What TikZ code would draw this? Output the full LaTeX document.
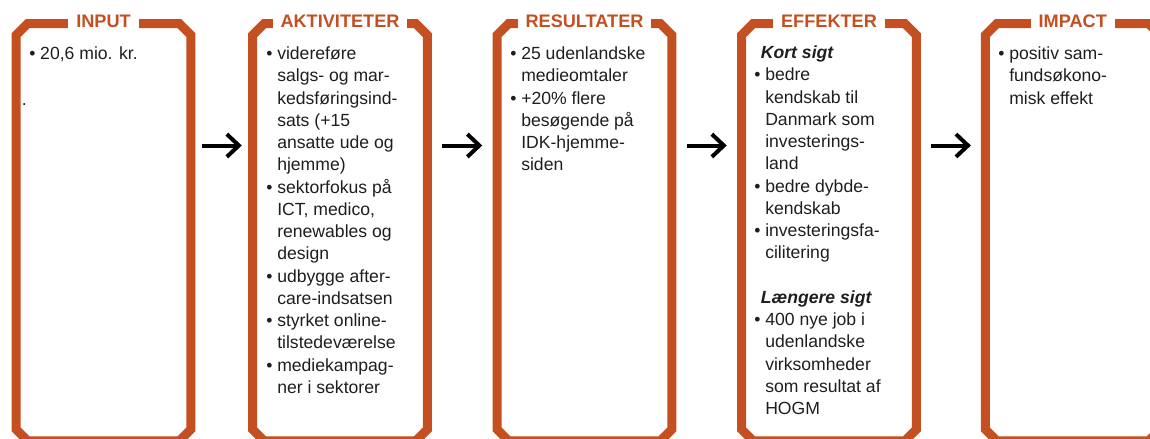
\documentclass[tikz,border=0pt]{standalone}
\usepackage{fontspec}
\setmainfont{Liberation Sans}
\usetikzlibrary{calc,arrows.meta}

\definecolor{frameorange}{RGB}{196,79,32}
\definecolor{bodyink}{RGB}{30,30,30}

% bullet list helpers for the box texts (\\ inside an item keeps the hanging indent)
\newlength\bulletindent
\setlength\bulletindent{8.25pt}
\newcommand\itm{\par\hangindent=\bulletindent\hangafter=1\noindent\makebox[\bulletindent][l]{•}}
\newcommand\subhead[1]{\par\noindent\hspace*{5pt}\textbf{\textit{#1}}}
\newcommand\blankline{\par\noindent\mbox{}}
\newcommand\boxtext[1]{\parbox[t]{118pt}{\fontsize{13.2}{16.7}\selectfont #1}}

% chamfer size of the frames
\def\cc{11.5}
% octagonal frame drawn around a named box area
\newcommand\chamferoutline[1]{%
  \draw[frame]
    ($(#1.north west)+(\cc,0)$) -- ($(#1.north east)+(-\cc,0)$) --
    ($(#1.north east)+(0,\cc)$) -- ($(#1.south east)+(0,-\cc)$) --
    ($(#1.south east)+(-\cc,0)$) -- ($(#1.south west)+(\cc,0)$) --
    ($(#1.south west)+(0,-\cc)$) -- ($(#1.north west)+(0,\cc)$) -- cycle;}

\tikzset{
  boxarea/.style={rectangle, inner sep=0pt, outer sep=0pt,
    minimum width=130.9pt, minimum height=313.1pt},
  frame/.style={draw=frameorange, line width=6.75pt, line join=miter},
  boxtitle/.style={anchor=base, fill=white, text=frameorange,
    font=\fontsize{13.6}{16}\selectfont\bfseries, inner xsep=6pt, inner ysep=2.5pt},
  body/.style={anchor=base west, inner sep=0pt, text=bodyink},
  flow/.style={draw=black, line width=3pt,
    -{Straight Barb[length=9pt,width=17pt]}},
}

\begin{document}
\begin{tikzpicture}[x=0.75pt, y=-0.75pt]
\useasboundingbox (0,0) rectangle (1150,439);
\clip (0,0) rectangle (1150,439);

% box areas (frame centre lines)
\node[boxarea] (b1) at (103.5,232.25) {};
\node[boxarea] (b2) at (340,232.25) {};
\node[boxarea] (b3) at (584.5,232.25) {};
\node[boxarea] (b4) at (829,232.25) {};
\node[boxarea] (b5) at (1072.75,232.25) {};

\chamferoutline{b1}
\chamferoutline{b2}
\chamferoutline{b3}
\chamferoutline{b4}
\chamferoutline{b5}

% titles interrupting the top edges
\node[boxtitle] (h1) at (b1.north |- 0,27) {INPUT};
\node[boxtitle] (h2) at (b2.north |- 0,27) {AKTIVITETER};
\node[boxtitle] (h3) at (b3.north |- 0,27) {RESULTATER};
\node[boxtitle] (h4) at (b4.north |- 0,27) {EFFEKTER};
\node[boxtitle] (h5) at (b5.north |- 0,27) {IMPACT};

% box contents
\node[body] (t1) at (29,59.5) {\boxtext{\itm 20,6 mio. kr.}};
\node[body] (dot1) at (21.5,105) {\fontsize{13.2}{16.7}\selectfont .};

\node[body] (t2) at (266,59.5) {\boxtext{%
  \itm videreføre\\ salgs- og mar-\\ kedsføringsind-\\ sats (+15\\ ansatte ude og\\ hjemme)
  \itm sektorfokus på\\ ICT, medico,\\ renewables og\\ design
  \itm udbygge after-\\ care-indsatsen
  \itm styrket online-\\ tilstedeværelse
  \itm mediekampag-\\ ner i sektorer}};

\node[body] (t3) at (510,59.5) {\boxtext{%
  \itm 25 udenlandske\\ medieomtaler
  \itm +20\% flere\\ besøgende på\\ IDK-hjemme-\\ siden}};

\node[body] (t4) at (754,58.5) {\boxtext{%
  \subhead{Kort sigt}
  \itm bedre\\ kendskab til\\ Danmark som\\ investerings-\\ land
  \itm bedre dybde-\\ kendskab
  \itm investeringsfa-\\ cilitering
  \blankline
  \subhead{Længere sigt}
  \itm 400 nye job i\\ udenlandske\\ virksomheder\\ som resultat af\\ HOGM}};

\node[body] (t5) at (998,59.5) {\boxtext{%
  \itm positiv sam-\\ fundsøkono-\\ misk effekt}};

% flow arrows between the boxes
\foreach \a/\b in {b1/b2, b2/b3, b3/b4, b4/b5}
  \draw[flow] ($(\a.east)!.5!(\b.west)+(-20,-86.75)$) -- ($(\a.east)!.5!(\b.west)+(20,-86.75)$);
\end{tikzpicture}
\end{document}
